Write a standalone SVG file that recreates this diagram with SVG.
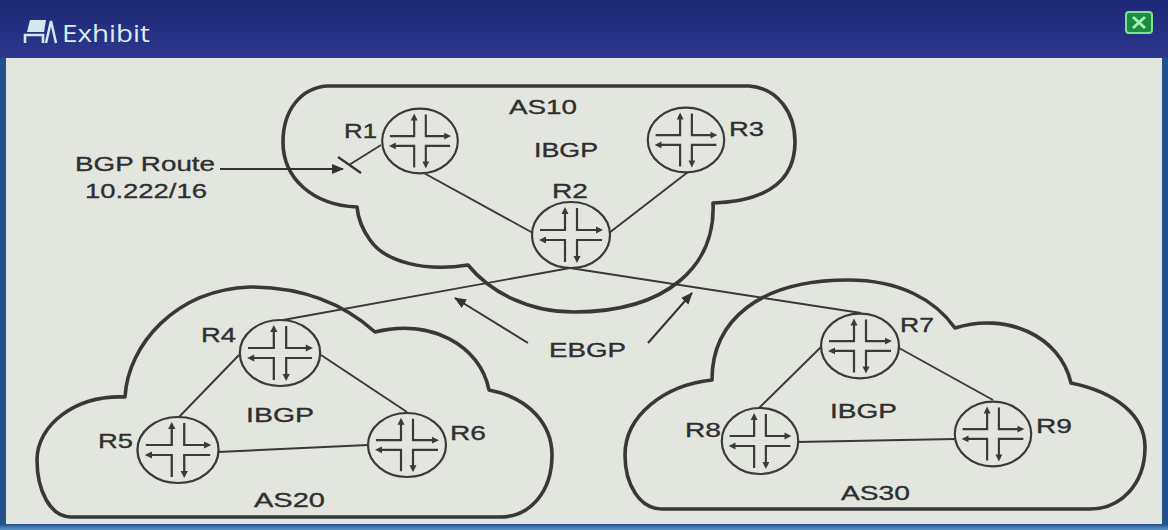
<svg xmlns="http://www.w3.org/2000/svg" xmlns:xlink="http://www.w3.org/1999/xlink" width="1168" height="530" viewBox="0 0 1168 530">
<style>
.cloud{fill:none;stroke:#383838;stroke-width:3.6;stroke-linejoin:round}
.link{fill:none;stroke:#383838;stroke-width:1.9}
.t{font-family:"Liberation Sans",Arial,sans-serif;font-size:21px;fill:#2f2f2f;stroke:#2f2f2f;stroke-width:0.35}
.ic{fill:none;stroke:#3a3a3a;stroke-width:2.2}
.ah{fill:#3a3a3a}
</style>
<defs>
<linearGradient id="tb" x1="0" y1="0" x2="0" y2="1">
<stop offset="0" stop-color="#1f2874"/>
<stop offset="1" stop-color="#2c388f"/>
</linearGradient>
<linearGradient id="bb" x1="0" y1="0" x2="0" y2="1">
<stop offset="0" stop-color="#24528f"/>
<stop offset="1" stop-color="#5b93c6"/>
</linearGradient>
<marker id="arr" viewBox="0 0 12 10" refX="11" refY="5" markerWidth="12" markerHeight="10" markerUnits="userSpaceOnUse" orient="auto">
<path d="M0,0 L12,5 L0,10 z" fill="#333"/>
</marker>
<g id="rtr">
<ellipse rx="39" ry="33" fill="#e3e6df" stroke="#3a3a3a" stroke-width="2.2"/>
<path class="ic" d="M-6,-22 V-5 H-31 M6,-27 V-5 H26 M-26,5 H-6 V27 M31,5 H6 V22"/>
<polygon class="ah" points="-6,-28 -9.5,-21 -2.5,-21"/>
<polygon class="ah" points="32,-5 25,-8.5 25,-1.5"/>
<polygon class="ah" points="-32,5 -25,1.5 -25,8.5"/>
<polygon class="ah" points="6,28 2.5,21 9.5,21"/>
</g>
</defs>

<!-- window chrome -->
<rect x="0" y="0" width="1168" height="530" fill="#24528f"/>
<rect x="0" y="0" width="1168" height="58" fill="url(#tb)"/>
<rect x="6" y="58" width="1156" height="467" fill="#e3e6df"/>
<rect x="0" y="524" width="1168" height="6" fill="url(#bb)"/>
<g id="title">
<polygon points="30,20 46,20 44,32 27,32" fill="#d6e6ee"/>
<path d="M25,43 V35 H43 V43" fill="none" stroke="#d6e6ee" stroke-width="2.6"/>
<path d="M46,43 L51,21 L56,43" fill="none" stroke="#d6e6ee" stroke-width="2.5"/>
<text x="62" y="42" font-family="'Open Sans','Liberation Sans',sans-serif" font-size="23" fill="#dcecef" textLength="88" lengthAdjust="spacingAndGlyphs">Exhibit</text>
</g>
<g id="close">
<rect x="1126" y="12" width="26" height="21" rx="3" fill="#1f8a45" stroke="#7be394" stroke-width="2"/>
<path d="M1133,17 L1145,28 M1145,17 L1133,28" stroke="#9ef2ae" stroke-width="3"/>
</g>

<!-- clouds -->
<g id="AS10">
<path class="cloud" d="M327,86 L749,86 C778,88 795,113 795,142 C795,177 772,201 713,203 C716,265 668,312 574,312 C528,312 490,292 468,265 C425,272 385,262 370,240 C362,229 358,218 357,207 C312,205 283,178 283,142 C283,110 301,88 327,86 Z"/>
<text class="t" x="509" y="114" textLength="68" lengthAdjust="spacingAndGlyphs">AS10</text>
<text class="t" x="534" y="157" textLength="64" lengthAdjust="spacingAndGlyphs">IBGP</text>
</g>
<g id="AS20">
<path class="cloud" d="M125,397 C128,345 175,290 250,287 C305,287 345,305 375,332 C430,318 480,345 489,390 C530,398 552,425 552,455 C552,492 530,517 500,517 L71,517 C50,517 37,490 37,460 C37,425 75,395 125,397 Z"/>
<text class="t" x="246" y="422" textLength="68" lengthAdjust="spacingAndGlyphs">IBGP</text>
<text class="t" x="254" y="507" textLength="71" lengthAdjust="spacingAndGlyphs">AS20</text>
</g>
<g id="AS30">
<path class="cloud" d="M712,380 C712,320 760,280 848,280 C900,280 935,300 955,328 C1005,312 1060,335 1071,383 C1115,392 1145,415 1145,447 C1145,485 1120,509 1090,509 L662,509 C640,509 625,485 625,455 C625,415 665,385 712,380 Z"/>
<text class="t" x="830" y="418" textLength="67" lengthAdjust="spacingAndGlyphs">IBGP</text>
<text class="t" x="841" y="500" textLength="69" lengthAdjust="spacingAndGlyphs">AS30</text>
</g>

<!-- connectors -->
<g id="connectors">
<line class="link" x1="422" y1="172" x2="533" y2="233"/>
<line class="link" x1="688" y1="172" x2="609" y2="233"/>
<line class="link" x1="570" y1="268" x2="283" y2="320"/>
<line class="link" x1="570" y1="268" x2="861" y2="313"/>
<line class="link" x1="239" y1="355" x2="179" y2="417"/>
<line class="link" x1="321" y1="355" x2="407" y2="412"/>
<line class="link" x1="218" y1="452" x2="368" y2="445"/>
<line class="link" x1="821" y1="347" x2="759" y2="408"/>
<line class="link" x1="899" y1="348" x2="993" y2="400"/>
<line class="link" x1="797" y1="442" x2="955" y2="439"/>
<line class="link" x1="381" y1="145" x2="349" y2="165"/>
<line x1="338" y1="157" x2="361" y2="173" stroke="#333" stroke-width="2.2"/>
<line x1="220" y1="169" x2="343" y2="169" stroke="#333" stroke-width="2.2" marker-end="url(#arr)"/>
<line x1="528" y1="343" x2="455" y2="298" stroke="#333" stroke-width="2" marker-end="url(#arr)"/>
<line x1="648" y1="343" x2="692" y2="293" stroke="#333" stroke-width="2" marker-end="url(#arr)"/>
</g>

<!-- routers -->
<g id="R1"><use xlink:href="#rtr" href="#rtr" transform="translate(420,141) scale(0.97,0.98)"/><text class="t" x="344" y="138" textLength="33" lengthAdjust="spacingAndGlyphs">R1</text></g>
<g id="R2"><use xlink:href="#rtr" href="#rtr" transform="translate(571,235)"/><text class="t" x="552" y="198" textLength="36" lengthAdjust="spacingAndGlyphs">R2</text></g>
<g id="R3"><use xlink:href="#rtr" href="#rtr" transform="translate(686,140) scale(0.98,0.98)"/><text class="t" x="729" y="136" textLength="35" lengthAdjust="spacingAndGlyphs">R3</text></g>
<g id="R4"><use xlink:href="#rtr" href="#rtr" transform="translate(280,353) scale(1.03,1)"/><text class="t" x="201" y="342" textLength="35" lengthAdjust="spacingAndGlyphs">R4</text></g>
<g id="R5"><use xlink:href="#rtr" href="#rtr" transform="translate(178,450) scale(1.04,1)"/><text class="t" x="98" y="448" textLength="35" lengthAdjust="spacingAndGlyphs">R5</text></g>
<g id="R6"><use xlink:href="#rtr" href="#rtr" transform="translate(407,445) scale(1,0.97)"/><text class="t" x="450" y="440" textLength="36" lengthAdjust="spacingAndGlyphs">R6</text></g>
<g id="R7"><use xlink:href="#rtr" href="#rtr" transform="translate(860,346) scale(1,0.98)"/><text class="t" x="900" y="332" textLength="34" lengthAdjust="spacingAndGlyphs">R7</text></g>
<g id="R8"><use xlink:href="#rtr" href="#rtr" transform="translate(760,441) scale(0.98,1)"/><text class="t" x="685" y="437" textLength="36" lengthAdjust="spacingAndGlyphs">R8</text></g>
<g id="R9"><use xlink:href="#rtr" href="#rtr" transform="translate(993,434) scale(0.98,0.98)"/><text class="t" x="1036" y="433" textLength="36" lengthAdjust="spacingAndGlyphs">R9</text></g>

<!-- free labels -->
<g id="labels">
<text class="t" x="75" y="171" font-size="22" textLength="140" lengthAdjust="spacingAndGlyphs">BGP Route</text>
<text class="t" x="85" y="198" font-size="22" textLength="122" lengthAdjust="spacingAndGlyphs">10.222/16</text>
<text class="t" x="549" y="357" font-size="22" textLength="77" lengthAdjust="spacingAndGlyphs">EBGP</text>
</g>
</svg>
